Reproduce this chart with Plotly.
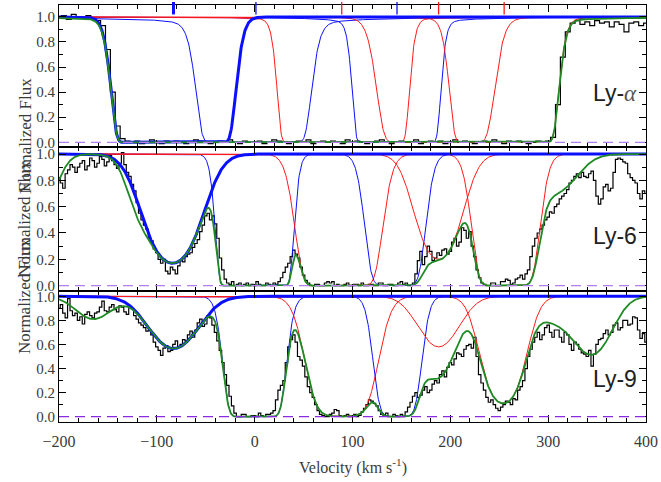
import numpy as np
import plotly.graph_objects as go
from plotly.subplots import make_subplots

# ---------------- data ----------------
VEL_LYA = list(range(-200, 401, 5))                 # km/s bin centres (Ly-alpha)
VEL_FINE = [-200 + 2.5 * i for i in range(241)]      # km/s bin centres (Ly-6, Ly-9)

FLUX_LYA = [
    0.99, 1.01, 0.98, 1.02, 0.99, 1.00, 1.01, 0.99, 0.97, 0.93,
    0.74, 0.40, 0.13, 0.03, 0.01,
    0.00, 0.01, -0.01, 0.00, 0.02, 0.00, -0.01, 0.01, 0.00, 0.01,
    0.00, -0.01, 0.00, 0.02, 0.01, 0.00, -0.01, 0.00, 0.01, 0.00,
    0.02, 0.00, -0.01, 0.01, 0.00, 0.00, 0.01, -0.01, 0.00, 0.02,
    0.01, 0.00, -0.01, 0.00, 0.01, 0.00, 0.02, -0.01, 0.00, 0.01,
    0.00, 0.01, 0.00, -0.01, 0.02, 0.00, 0.01, 0.00, -0.01, 0.00,
    0.01, 0.02, 0.00, -0.01, 0.00, 0.01, 0.00, 0.00, 0.02, -0.01,
    0.00, 0.01, 0.00, 0.01, -0.01, 0.00, 0.02, 0.00, 0.01, 0.00,
    -0.01, 0.00, 0.01, 0.00, 0.02, 0.00, -0.01, 0.01, 0.00, 0.01,
    0.00, -0.01, 0.00, 0.01, 0.00, 0.01,
    0.04, 0.30, 0.68, 0.88, 0.95, 0.97, 0.94, 0.96, 0.93, 0.97,
    0.95, 0.96, 0.92, 0.96, 0.94, 0.88, 0.95, 0.96, 0.93, 0.95,
]

# two values per 5 km/s (at v and v+2.5), v = -200 ... 395, then 400
FLUX_LY6 = [
    0.82, 0.78, 0.74, 0.85, 0.88, 0.92, 0.90, 0.86, 0.90, 0.93,   # -200 .. -177.5
    0.95, 0.88, 0.91, 0.97, 0.95, 0.90, 0.93, 0.98, 0.96, 0.91,   # -175 .. -152.5
    0.94, 0.99, 0.95, 0.92, 0.89, 0.93, 1.01, 0.92, 0.86, 0.83,   # -150 .. -127.5
    0.77, 0.72, 0.63, 0.55, 0.50, 0.46, 0.43, 0.36, 0.34, 0.28,   # -125 .. -102.5
    0.25, 0.20, 0.17, 0.20, 0.11, 0.09, 0.14, 0.12, 0.09, 0.15,   # -100 .. -77.5
    0.19, 0.18, 0.22, 0.24, 0.25, 0.29, 0.32, 0.35, 0.41, 0.46,   # -75 .. -52.5
    0.53, 0.55, 0.50, 0.53, 0.47, 0.36, 0.21, 0.12, 0.05, 0.02,   # -50 .. -27.5
    0.01, 0.03, 0.00, 0.01, 0.02, 0.00, 0.01, 0.02, 0.00, 0.01,   # -25 .. -2.5
    0.00, 0.03, 0.01, 0.00, 0.00, 0.02, 0.01, 0.00, 0.02, 0.01,   # 0 .. 22.5
    0.03, 0.06, 0.10, 0.14, 0.17, 0.22, 0.27, 0.24, 0.21, 0.14,   # 25 .. 47.5
    0.08, 0.04, 0.02, 0.00, 0.00, 0.01, 0.01, 0.00, 0.00, 0.02,   # 50 .. 72.5
    0.03, 0.02, 0.03, 0.00, 0.01, 0.00, 0.00, 0.01, 0.02, 0.00,   # 75 .. 97.5
    0.00, 0.01, 0.01, 0.00, 0.02, 0.00, 0.00, 0.01, 0.01, 0.00,   # 100 .. 122.5
    0.00, 0.02, 0.02, 0.00, 0.00, 0.01, 0.01, 0.00, 0.00, 0.02,   # 125 .. 147.5
    0.03, 0.01, 0.02, 0.00, 0.00, 0.02, 0.09, 0.19, 0.26, 0.16,   # 150 .. 172.5
    0.22, 0.30, 0.26, 0.19, 0.21, 0.25, 0.23, 0.27, 0.28, 0.24,   # 175 .. 197.5
    0.26, 0.33, 0.36, 0.30, 0.33, 0.44, 0.42, 0.36, 0.41, 0.30,   # 200 .. 222.5
    0.22, 0.12, 0.06, 0.02, 0.01, 0.00, 0.00, 0.02, 0.02, 0.00,   # 225 .. 247.5
    0.00, 0.03, 0.03, 0.05, 0.04, 0.01, 0.02, 0.05, 0.06, 0.08,   # 250 .. 272.5
    0.05, 0.09, 0.12, 0.22, 0.30, 0.36, 0.40, 0.43, 0.46, 0.50,   # 275 .. 297.5
    0.52, 0.56, 0.55, 0.60, 0.62, 0.66, 0.68, 0.70, 0.73, 0.78,   # 300 .. 322.5
    0.80, 0.83, 0.85, 0.82, 0.86, 0.83, 0.82, 0.85, 0.87, 0.80,   # 325 .. 347.5
    0.68, 0.62, 0.66, 0.75, 0.77, 0.72, 0.74, 0.86, 0.96, 0.97,   # 350 .. 372.5
    0.96, 0.94, 0.93, 0.85, 0.82, 0.80, 0.78, 0.70, 0.66, 0.72,   # 375 .. 397.5
    0.70,                                                         # 400
]

FLUX_LY9 = [
    0.90, 0.93, 0.86, 0.82, 0.98, 0.88, 0.84, 0.86, 0.80, 0.83,   # -200 .. -177.5
    0.77, 0.85, 0.87, 0.84, 0.82, 0.86, 0.87, 0.91, 0.96, 0.88,   # -175 .. -152.5
    0.87, 0.91, 0.93, 0.89, 0.87, 0.92, 0.91, 0.87, 0.85, 0.91,   # -150 .. -127.5
    0.90, 0.84, 0.81, 0.78, 0.76, 0.74, 0.71, 0.72, 0.68, 0.62,   # -125 .. -102.5
    0.58, 0.55, 0.51, 0.57, 0.59, 0.54, 0.55, 0.60, 0.63, 0.58,   # -100 .. -77.5
    0.60, 0.64, 0.63, 0.68, 0.71, 0.66, 0.72, 0.78, 0.81, 0.75,   # -75 .. -52.5
    0.77, 0.84, 0.82, 0.76, 0.70, 0.63, 0.55, 0.45, 0.35, 0.26,   # -50 .. -27.5
    0.17, 0.09, 0.03, 0.00, 0.00, 0.02, 0.02, 0.00, 0.00, 0.01,   # -25 .. -2.5
    0.01, 0.00, 0.03, 0.01, 0.00, 0.02, 0.02, 0.03, 0.05, 0.14,   # 0 .. 22.5
    0.22, 0.26, 0.30, 0.45, 0.58, 0.64, 0.68, 0.62, 0.50, 0.47,   # 25 .. 47.5
    0.42, 0.33, 0.25, 0.20, 0.16, 0.10, 0.05, 0.02, 0.01, 0.00,   # 50 .. 72.5
    0.00, 0.02, 0.03, 0.06, 0.05, 0.01, 0.00, 0.01, 0.02, 0.00,   # 75 .. 97.5
    0.01, 0.02, 0.00, 0.01, 0.04, 0.07, 0.10, 0.14, 0.13, 0.11,   # 100 .. 122.5
    0.09, 0.05, 0.02, 0.01, 0.03, 0.00, 0.00, 0.02, 0.01, 0.00,   # 125 .. 147.5
    0.02, 0.00, 0.04, 0.08, 0.12, 0.17, 0.20, 0.16, 0.18, 0.22,   # 150 .. 172.5
    0.25, 0.20, 0.22, 0.27, 0.30, 0.28, 0.35, 0.38, 0.33, 0.41,   # 175 .. 197.5
    0.45, 0.43, 0.48, 0.53, 0.52, 0.50, 0.56, 0.59, 0.60, 0.57,   # 200 .. 222.5
    0.66, 0.50, 0.35, 0.28, 0.22, 0.16, 0.12, 0.14, 0.10, 0.07,   # 225 .. 247.5
    0.05, 0.08, 0.10, 0.13, 0.12, 0.10, 0.15, 0.14, 0.22, 0.25,   # 250 .. 272.5
    0.30, 0.40, 0.50, 0.56, 0.62, 0.66, 0.70, 0.64, 0.68, 0.74,   # 275 .. 297.5
    0.76, 0.70, 0.66, 0.72, 0.72, 0.66, 0.62, 0.70, 0.68, 0.60,   # 300 .. 322.5
    0.55, 0.62, 0.60, 0.56, 0.53, 0.52, 0.50, 0.55, 0.42, 0.52,   # 325 .. 347.5
    0.60, 0.64, 0.65, 0.69, 0.72, 0.68, 0.70, 0.76, 0.78, 0.72,   # 350 .. 372.5
    0.74, 0.80, 0.80, 0.76, 0.77, 0.83, 0.82, 0.72, 0.65, 0.69,   # 375 .. 397.5
    0.62,                                                         # 400
]
assert len(FLUX_LYA) == len(VEL_LYA)
assert len(FLUX_LY6) == len(VEL_FINE) and len(FLUX_LY9) == len(VEL_FINE)

# ---------------- fitted absorption components ----------------
COMP_KIND = ["thick", "blue", "red", "blue", "red", "red"]

LYA_CENTER = [-83, -1, 90.6, 145, 185, 255]
LYA_B = [25, 25, 22, 17.3, 27.6, 22.7]
LYA_TAU = [600, 220, 11000, 815, 100, 378]
LYA_WING = [0, 290, 100, 120, 60, 60]

LY6_CENTER = [-84, 0, 86, 143.7, 188, 256.7]
LY6_B = [30.7, 17, 24.4, 18.8, 25, 20.5]
LY6_TAU = [1.77, 233, 24.2, 12.6, 1.61, 15.1]
LY6_WING = [0, 0, 0, 0, 0, 0]

LY9_CENTER = [-83, 0, 89, 146, 188, 254]
LY9_B = [32, 18, 26, 16.2, 26.4, 22]
LY9_TAU = [0.57, 22, 6.2, 8.3, 0.545, 2.2]
LY9_WING = [0, 0, 0, 0, 0, 0]

# blended absorption from other lines (only in the total model)
LYA_BLEND_CENTER, LYA_BLEND_B, LYA_BLEND_TAU = [], [], []

LY6_BLEND_CENTER = [-220, -120, 308]
LY6_BLEND_B = [20, 15, 27.5]
LY6_BLEND_TAU = [0.6, 0.22, 0.34]

LY9_BLEND_CENTER = [-165, 185, 305, 345]
LY9_BLEND_B = [24, 20, 25, 25]
LY9_BLEND_TAU = [0.21, 0.6, 0.2, 0.65]

MARKER_VEL = [-83, 1.3, 89, 145.5, 188, 255]

PANEL_LABELS = [
    "Ly-<span style=\"font-family:'Liberation Serif';font-style:italic;color:#555\">α</span>",
    "Ly-6",
    "Ly-9",
]
Y_TICKS = [0.0, 0.2, 0.4, 0.6, 0.8, 1.0]
X_TICKS = [-200, -100, 0, 100, 200, 300, 400]

# ---------------- figure ----------------
BLUE = "#0a10ff"
RED = "#ff1a1a"
GREEN = "#1f8a24"
SERIF = "Liberation Serif"
SANS = "Liberation Sans"
TXT = "#3a3a3a"

v = np.linspace(-200, 400, 1201)


def comp_flux(c, b, tau, wing):
    dv = v - c
    return np.exp(-(tau * np.exp(-(dv / b) ** 2) + wing / (dv ** 2 + b ** 2)))


panels = [
    (VEL_LYA, FLUX_LYA, LYA_CENTER, LYA_B, LYA_TAU, LYA_WING,
     LYA_BLEND_CENTER, LYA_BLEND_B, LYA_BLEND_TAU),
    (VEL_FINE, FLUX_LY6, LY6_CENTER, LY6_B, LY6_TAU, LY6_WING,
     LY6_BLEND_CENTER, LY6_BLEND_B, LY6_BLEND_TAU),
    (VEL_FINE, FLUX_LY9, LY9_CENTER, LY9_B, LY9_TAU, LY9_WING,
     LY9_BLEND_CENTER, LY9_BLEND_B, LY9_BLEND_TAU),
]

fig = make_subplots(rows=3, cols=1, shared_xaxes=True, vertical_spacing=0)

for r, (vx, flux, cen, bb, tt, ww, bc, bbw, bt) in enumerate(panels, start=1):
    fig.add_trace(go.Scatter(x=vx, y=flux, mode="lines",
                             line=dict(color="black", width=1.2, shape="hvh"),
                             showlegend=False, hoverinfo="skip"), row=r, col=1)
    total = np.ones_like(v)
    profiles = []
    for c, b, t, w in zip(cen, bb, tt, ww):
        p = comp_flux(c, b, t, w)
        profiles.append(p)
        total = total * p
    for c, b, t in zip(bc, bbw, bt):
        total = total * comp_flux(c, b, t, 0)
    for p, kind in zip(profiles, COMP_KIND):
        if kind == "thick":
            continue
        fig.add_trace(go.Scatter(x=v, y=p, mode="lines",
                                 line=dict(color=BLUE if kind == "blue" else RED, width=1.0),
                                 showlegend=False, hoverinfo="skip"), row=r, col=1)
    for p, kind in zip(profiles, COMP_KIND):
        if kind == "thick":
            fig.add_trace(go.Scatter(x=v, y=p, mode="lines",
                                     line=dict(color=BLUE, width=3),
                                     showlegend=False, hoverinfo="skip"), row=r, col=1)
    fig.add_trace(go.Scatter(x=v, y=total, mode="lines",
                             line=dict(color=GREEN, width=1.8),
                             showlegend=False, hoverinfo="skip"), row=r, col=1)

W, H = 661, 482
ML, MR, MT, MB = 59, 12, 3, 60
plot_h = H - MT - MB


def py(px):
    return (H - MB - px) / plot_h


domains = [[py(146), 1.0], [py(290), py(146)], [0.0, py(290)]]
yranges = [[-0.040, 1.095], [-0.038, 1.051], [-0.044, 1.047]]
dash_colors = ["#b57cf0", "#b57cf0", "#8a2be2"]

axis_common = dict(showline=True, linecolor="black", linewidth=1.1, mirror="ticks",
                   ticks="inside", tickcolor="black", ticklen=7, tickwidth=1,
                   showgrid=False, zeroline=False)

for i in range(3):
    sfx = "" if i == 0 else str(i + 1)
    fig.layout["yaxis" + sfx].update(
        domain=domains[i], range=yranges[i], tickvals=Y_TICKS, tickformat=".1f",
        minor=dict(dtick=0.1, tick0=0, ticks="inside", ticklen=4, tickcolor="black"),
        tickfont=dict(family=SERIF, size=15, color=TXT), **axis_common)
    fig.layout["xaxis" + sfx].update(
        range=[-200, 400], tickvals=X_TICKS,
        minor=dict(dtick=20, tick0=0, ticks="inside", ticklen=4, tickcolor="black"),
        tickfont=dict(family=SERIF, size=16, color=TXT), ticklabelstandoff=5,
        **axis_common)
    yref = "y" + sfx
    fig.add_shape(type="line", xref="x" + sfx, yref=yref, x0=-200, x1=400, y0=0, y1=0,
                  line=dict(color=dash_colors[i], width=1.2, dash="10px,6px"))
    fig.add_annotation(text="Normalized Flux", xref="paper", yref="paper",
                       x=(13 - ML) / (W - ML - MR), y=sum(domains[i]) / 2,
                       textangle=-90, showarrow=False,
                       font=dict(family=SERIF, size=17, color=TXT))

label_y = [0.39, 0.38, 0.31]
for i in range(3):
    sfx = "" if i == 0 else str(i + 1)
    fig.add_annotation(text=PANEL_LABELS[i], xref="x" + sfx, yref="y" + sfx,
                       x=393, y=label_y[i], xanchor="right", yanchor="middle",
                       showarrow=False, font=dict(family=SANS, size=23, color="#222"))

for vel, kind in zip(MARKER_VEL, COMP_KIND):
    fig.add_shape(type="line", xref="x", yref="paper", x0=vel, x1=vel,
                  y0=py(12.5), y1=py(0),
                  line=dict(color=RED if kind == "red" else BLUE,
                            width=3 if kind == "thick" else 1.3))

fig.add_annotation(text="Velocity (km s<sup>-1</sup>)", xref="paper", yref="paper",
                   x=0.5, y=py(467), yanchor="middle", showarrow=False,
                   font=dict(family=SERIF, size=16, color=TXT))

fig.update_layout(width=W, height=H, margin=dict(l=ML, r=MR, t=MT, b=MB),
                  paper_bgcolor="white", plot_bgcolor="white",
                  font=dict(family=SERIF, color=TXT), showlegend=False)

fig.write_html("out.html", config={"displayModeBar": False},
               post_script="document.body.style.margin='0px';"
                           "document.body.style.overflow='hidden';")
